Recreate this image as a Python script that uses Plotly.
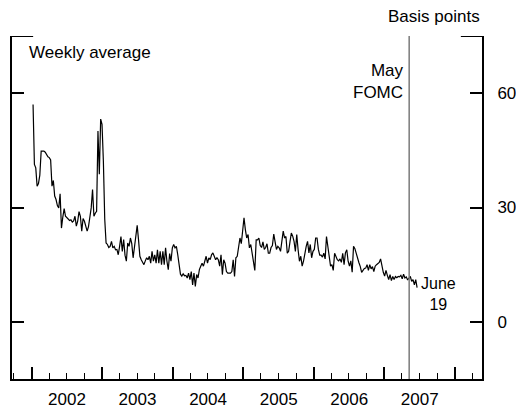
import pandas as pd
import plotly.graph_objects as go

# Weekly average spread, basis points, by calendar year
y2002 = [57.0, 41.3, 40.4, 35.6, 36.3, 38.5, 44.8, 44.8, 44.8, 44.5, 43.9, 43.3, 43.1, 42.5,
         35.6, 37.1, 33.0, 32.1, 30.5, 29.9, 33.6, 24.6, 27.5, 29.7, 27.7, 27.3, 27.0, 26.6,
         26.8, 26.2, 26.5, 27.7, 25.1, 26.4, 28.9, 27.7, 23.8, 27.1, 26.4, 25.0, 23.8, 25.0,
         27.0, 29.9, 34.7, 27.7, 28.5, 29.0, 50.1, 38.7, 53.2, 51.8]
y2003 = [42.2, 27.0, 20.7, 20.3, 19.5, 19.8, 21.1, 19.4, 19.8, 18.9, 19.0, 17.6, 19.8, 22.4,
         18.5, 21.6, 17.5, 15.9, 20.7, 19.8, 22.0, 20.5, 16.8, 19.5, 22.4, 25.3, 21.5, 17.2,
         16.3, 15.5, 15.0, 16.0, 16.8, 16.3, 17.2, 15.4, 18.5, 15.9, 17.6, 15.4, 18.9, 15.4,
         18.5, 15.0, 18.5, 15.0, 19.4, 15.9, 13.7, 17.9, 15.9, 19.4]
y2004 = [20.3, 19.4, 19.8, 17.6, 14.5, 12.5, 12.0, 12.6, 12.1, 12.2, 11.5, 12.8, 11.1, 13.2,
         9.7, 12.8, 9.3, 12.4, 11.5, 13.7, 14.6, 15.4, 14.6, 16.3, 17.2, 15.4, 16.8, 16.3,
         17.6, 18.1, 17.2, 16.3, 16.8, 16.3, 14.6, 17.6, 12.4, 16.3, 15.4, 13.2, 12.8, 12.8,
         12.8, 13.2, 16.3, 11.9, 16.8, 17.2, 20.3, 22.0, 20.5, 25.0]
y2005 = [27.3, 24.2, 22.0, 22.9, 19.4, 20.3, 17.6, 15.0, 13.5, 21.5, 21.5, 22.0, 20.0, 19.5,
         21.0, 19.0, 19.5, 20.5, 18.0, 18.0, 19.5, 20.0, 23.0, 21.0, 19.0, 19.8, 19.4, 18.5,
         21.0, 23.8, 22.0, 22.4, 18.0, 18.5, 21.0, 23.3, 22.5, 21.1, 18.5, 22.9, 18.9, 15.9,
         17.2, 14.6, 15.9, 18.5, 19.8, 21.1, 18.1, 20.3, 16.8, 18.5]
y2006 = [19.0, 22.0, 22.0, 19.0, 17.5, 17.5, 17.0, 18.0, 16.5, 22.4, 19.8, 16.0, 14.6, 15.0,
         13.5, 18.0, 17.0, 16.3, 16.0, 16.5, 15.6, 18.0, 15.0, 18.1, 18.9, 15.9, 14.6, 16.0,
         13.0, 19.8, 19.2, 17.8, 16.5, 15.5, 14.5, 13.0, 13.5, 14.0, 14.1, 15.0, 13.5, 15.0,
         13.9, 14.5, 13.2, 14.6, 15.0, 15.2, 15.6, 16.5, 14.5, 13.0]
y2007 = [12.0, 13.5, 12.2, 11.1, 12.4, 10.8, 11.9, 11.1, 11.9, 11.6, 11.9, 11.8, 12.2, 11.3,
         12.5, 11.5, 11.8, 11.0, 11.5, 11.9, 10.6, 11.1, 9.7, 11.1, 9.0]

values = y2002 + y2003 + y2004 + y2005 + y2006 + y2007
last_date = "2007-06-19"
dates = pd.date_range(end=last_date, periods=len(values), freq="7D")

fomc_date = "2007-05-09"
y_ticks = [0, 30, 60]
y_range = [-15, 75]
x_range = ["2001-09-21", "2008-05-20"]

FONT = "Arial, Liberation Sans, sans-serif"

fig = go.Figure()
fig.add_trace(go.Scatter(x=dates, y=values, mode="lines",
                         line=dict(color="black", width=1.2),
                         showlegend=False, hoverinfo="skip"))

# the page body has an 8px margin, so the margins below are offset by 8px
fig.update_layout(
    width=524, height=409,
    margin=dict(l=4, r=50, t=28, b=38, autoexpand=False),
    paper_bgcolor="white", plot_bgcolor="white",
    font=dict(family=FONT, size=17, color="black"),
    showlegend=False,
)

fig.update_xaxes(
    type="date", range=x_range, automargin=False,
    showline=True, linewidth=2, linecolor="black", mirror=False,
    ticks="inside", ticklen=12, tickwidth=2, tickcolor="black",
    dtick="M12", tick0="2002-01-01", tickformat="%Y", ticklabelmode="period",
    showgrid=False, zeroline=False, ticklabelstandoff=4,
    tickfont=dict(size=17),
    minor=dict(dtick="M3", tick0="2002-01-01", ticks="inside", ticklen=6, tickwidth=1,
               tickcolor="black", showgrid=False),
)

fig.update_yaxes(
    range=y_range, side="right", automargin=False,
    showline=True, linewidth=2, linecolor="black", mirror="ticks",
    ticks="inside", ticklen=12, tickwidth=2, tickcolor="black",
    tickvals=y_ticks, showgrid=False, zeroline=False,
    tickfont=dict(size=17), ticklabelstandoff=10,
)

# top tick marks at the upper end of both vertical axes
fig.add_shape(type="line", xref="paper", yref="y", x0=0, x1=0.045, y0=75, y1=75,
              line=dict(color="black", width=2))
fig.add_shape(type="line", xref="paper", yref="y", x0=0.955, x1=1, y0=75, y1=75,
              line=dict(color="black", width=2))

# May FOMC vertical line
fig.add_shape(type="line", xref="x", yref="paper", x0=fomc_date, x1=fomc_date, y0=0, y1=1,
              line=dict(color="#7a7a7a", width=1.5))

fig.add_annotation(text="May<br>FOMC", xref="x", yref="paper", x=fomc_date, y=0.867,
                   xanchor="right", yanchor="middle", xshift=-3, align="right",
                   showarrow=False, font=dict(size=17))
fig.add_annotation(text="June<br>19", xref="x", yref="y", x=last_date, y=7.4,
                   xanchor="left", yanchor="middle", xshift=2, align="center",
                   showarrow=False, font=dict(size=16))
fig.add_annotation(text="Weekly average", xref="paper", yref="paper", x=0.032, y=0.9525,
                   xanchor="left", yanchor="middle", showarrow=False, font=dict(size=17))
fig.add_annotation(text="Basis points", xref="paper", yref="paper", x=1.0, y=1.058,
                   xanchor="right", yanchor="middle", showarrow=False, font=dict(size=17))

fig.write_html("out.html")
